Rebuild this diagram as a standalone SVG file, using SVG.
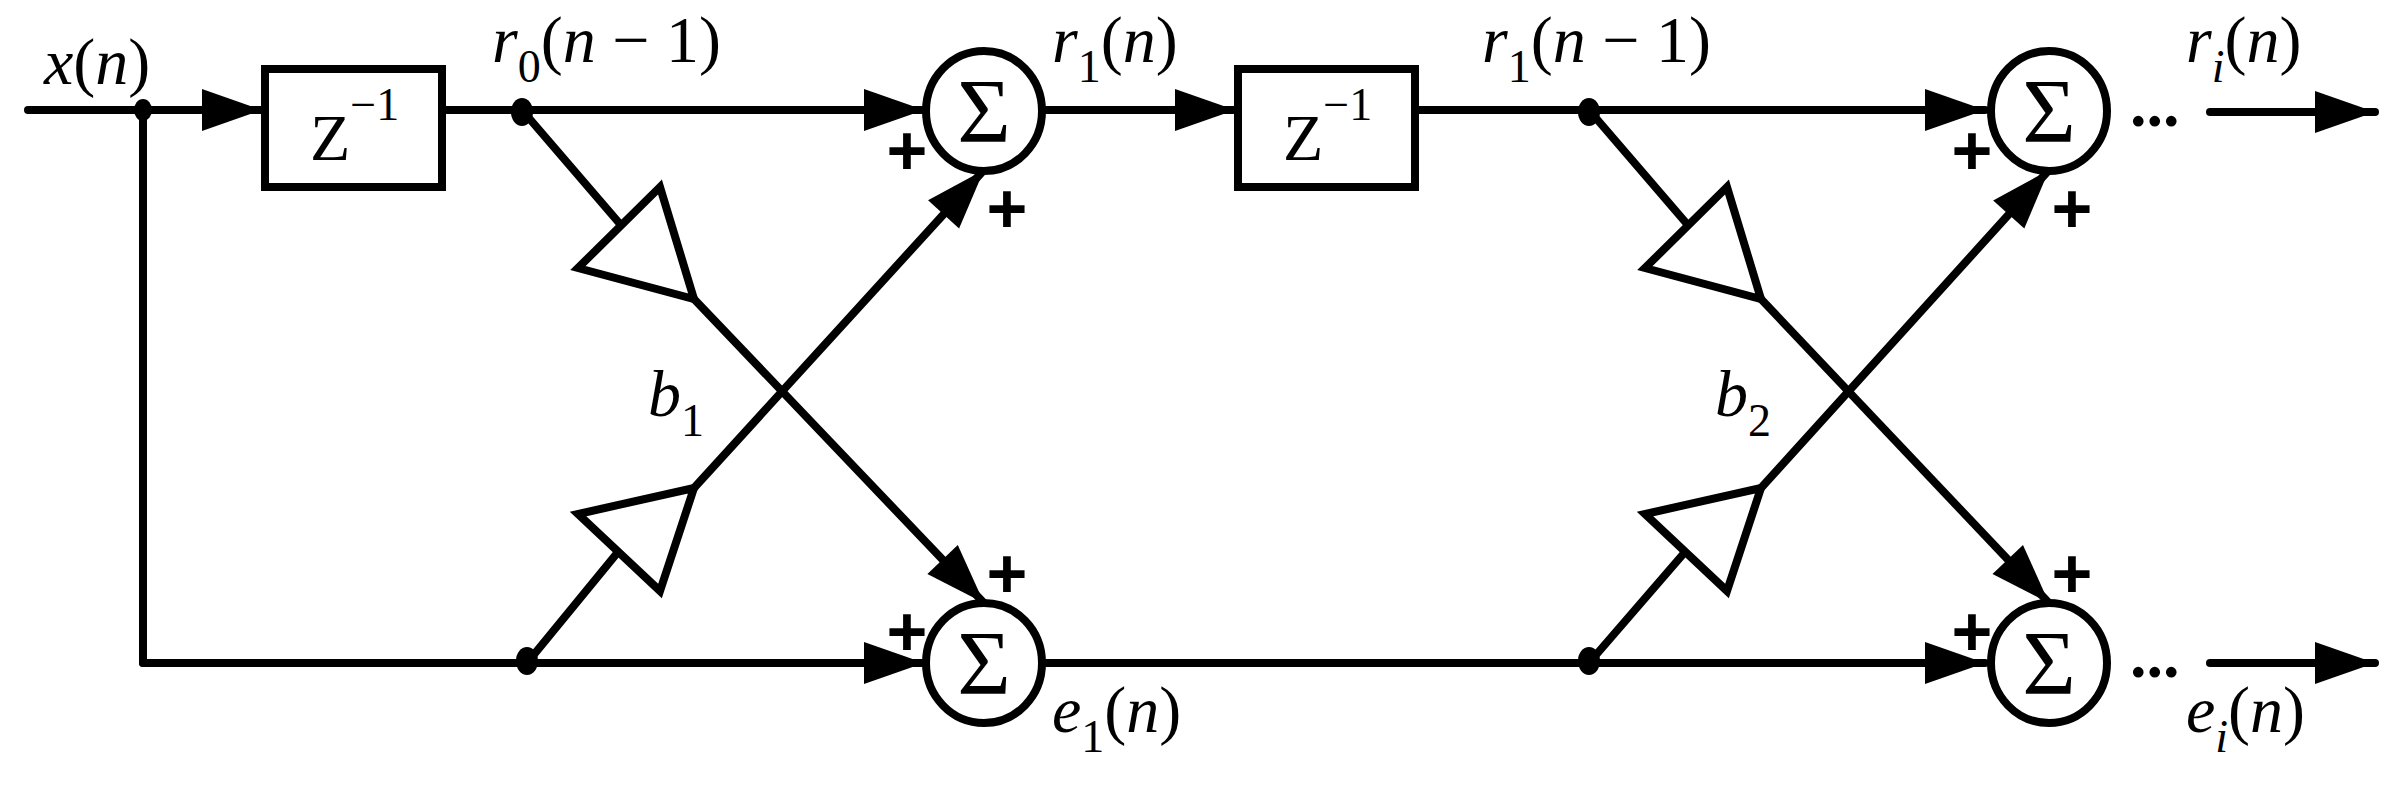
<svg xmlns="http://www.w3.org/2000/svg" width="2407" height="787" viewBox="0 0 2407 787">
<style>
.l{stroke:#000;stroke-width:8;fill:none;stroke-linecap:round}
.a{marker-end:url(#ah)}
.b{stroke:#000;stroke-width:8;fill:#fff}
.t{font-family:'Liberation Serif','Times New Roman','DejaVu Serif',serif;font-size:66px;fill:#000}
.i{font-style:italic}
.s{font-size:46px}
.p{font-family:'Liberation Sans',Arial,sans-serif;font-size:70px;font-weight:bold;fill:#000;text-anchor:middle}
.g{font-family:'Liberation Serif','Times New Roman','DejaVu Serif',serif;font-size:92px;fill:#000;text-anchor:middle}
</style>
<defs>
<marker id="ah" markerUnits="userSpaceOnUse" markerWidth="70" markerHeight="50" viewBox="0 0 70 50" refX="66" refY="25" orient="auto">
<path d="M6,4 L66,25 L6,46 Z" fill="#000"/>
</marker>
</defs>
<g id="connectors">
<line class="l a" x1="28" y1="110" x2="262" y2="110"/>
<line class="l" x1="143" y1="110" x2="143" y2="663"/>
<line class="l a" x1="442" y1="110" x2="924" y2="110"/>
<line class="l a" x1="1043" y1="110" x2="1235" y2="110"/>
<line class="l a" x1="1415" y1="110" x2="1985" y2="110"/>
<line class="l a" x1="143" y1="663" x2="924" y2="663"/>
<line class="l a" x1="1043" y1="663" x2="1985" y2="663"/>
<line class="l a" x1="2210" y1="112" x2="2375" y2="112"/>
<line class="l a" x1="2210" y1="663" x2="2375" y2="663"/>
<line class="l" x1="522" y1="110" x2="620" y2="224"/>
<line class="l a" x1="694" y1="299" x2="984" y2="603"/>
<line class="l" x1="527" y1="663" x2="618" y2="552"/>
<line class="l a" x1="694" y1="488" x2="984" y2="170"/>
<line class="l" x1="1589" y1="110" x2="1687" y2="224"/>
<line class="l a" x1="1761" y1="299" x2="2049" y2="603"/>
<line class="l" x1="1589" y1="663" x2="1685" y2="552"/>
<line class="l a" x1="1761" y1="488" x2="2049" y2="170"/>
</g>
<g id="dots">
<ellipse cx="143" cy="110" rx="9" ry="11"/>
<ellipse cx="522" cy="112" rx="11" ry="14"/>
<ellipse cx="527" cy="661" rx="11" ry="14"/>
<ellipse cx="1589" cy="112" rx="11" ry="14"/>
<ellipse cx="1589" cy="661" rx="11" ry="14"/>
</g>
<g id="delay1"><rect class="b" x="265" y="69" width="177" height="118"/><text class="t" x="310" y="160">Z<tspan class="s" dy="-40">−1</tspan></text></g>
<g id="delay2"><rect class="b" x="1238" y="69" width="177" height="118"/><text class="t" x="1283" y="160">Z<tspan class="s" dy="-40">−1</tspan></text></g>
<g id="gain1a"><polygon class="b" points="660,187 578,268 694,299"/></g>
<g id="gain1b"><polygon class="b" points="660,591 578,514 694,488"/></g>
<g id="gain2a"><polygon class="b" points="1727,187 1645,268 1761,299"/></g>
<g id="gain2b"><polygon class="b" points="1727,591 1645,514 1761,488"/></g>
<g id="sum1"><ellipse class="b" cx="984" cy="111" rx="58" ry="60"/><text class="g" x="984" y="142">Σ</text></g>
<g id="sum2"><ellipse class="b" cx="984" cy="663" rx="58" ry="60"/><text class="g" x="984" y="694">Σ</text></g>
<g id="sum3"><ellipse class="b" cx="2049" cy="111" rx="58" ry="60"/><text class="g" x="2049" y="142">Σ</text></g>
<g id="sum4"><ellipse class="b" cx="2049" cy="663" rx="58" ry="60"/><text class="g" x="2049" y="694">Σ</text></g>
<g id="labels">
<text class="p" x="907" y="175">+</text><text class="p" x="1007" y="233">+</text>
<text class="p" x="1007" y="598">+</text><text class="p" x="907" y="656">+</text>
<text class="p" x="1972" y="175">+</text><text class="p" x="2072" y="233">+</text>
<text class="p" x="2072" y="598">+</text><text class="p" x="1972" y="656">+</text>
<text class="t" x="2130" y="126" font-weight="bold">...</text>
<text class="t" x="2130" y="677" font-weight="bold">...</text>
<text class="t" x="44" y="84"><tspan class="i">x</tspan>(<tspan class="i">n</tspan>)</text>
<text class="t" x="492" y="62"><tspan class="i">r</tspan><tspan class="s" dy="20">0</tspan><tspan dy="-20">(</tspan><tspan class="i">n</tspan> − 1)</text>
<text class="t" x="1052" y="62"><tspan class="i">r</tspan><tspan class="s" dy="20">1</tspan><tspan dy="-20">(</tspan><tspan class="i">n</tspan>)</text>
<text class="t" x="1482" y="62"><tspan class="i">r</tspan><tspan class="s" dy="20">1</tspan><tspan dy="-20">(</tspan><tspan class="i">n</tspan> − 1)</text>
<text class="t" x="2186" y="62"><tspan class="i">r</tspan><tspan class="s i" dy="20">i</tspan><tspan dy="-20">(</tspan><tspan class="i">n</tspan>)</text>
<text class="t" x="1052" y="732"><tspan class="i">e</tspan><tspan class="s" dy="20">1</tspan><tspan dy="-20">(</tspan><tspan class="i">n</tspan>)</text>
<text class="t" x="2186" y="732"><tspan class="i">e</tspan><tspan class="s i" dy="20">i</tspan><tspan dy="-20">(</tspan><tspan class="i">n</tspan>)</text>
<text class="t" x="648" y="416"><tspan class="i">b</tspan><tspan class="s" dy="20">1</tspan></text>
<text class="t" x="1715" y="416"><tspan class="i">b</tspan><tspan class="s" dy="20">2</tspan></text>
</g>
</svg>
